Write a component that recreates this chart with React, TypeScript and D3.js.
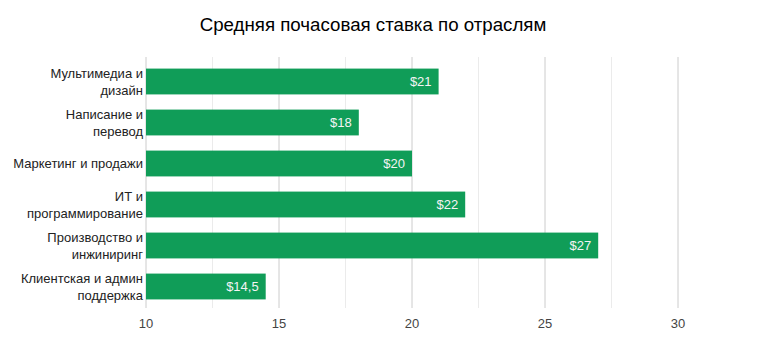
import React from "react";
import * as d3 from "d3";

const categories = [
  ["Мультимедиа и", "дизайн"],
  ["Написание и", "перевод"],
  ["Маркетинг и продажи"],
  ["ИТ и", "программирование"],
  ["Производство и", "инжиниринг"],
  ["Клиентская и админ", "поддержка"],
];
const values = [21, 18, 20, 22, 27, 14.5];
const valueLabels = ["$21", "$18", "$20", "$22", "$27", "$14,5"];
const majorTicks = [10, 15, 20, 25, 30];
const minorTicks = [12.5, 17.5, 22.5, 27.5];
const title = "Средняя почасовая ставка по отраслям";

const W = 775;
const H = 353;
const FONT = "Arial, 'Liberation Sans', sans-serif";

export default function App() {
  const x = d3.scaleLinear().domain([10, 30]).range([146, 678]);
  const y = d3
    .scaleBand<number>()
    .domain(d3.range(categories.length))
    .range([61, 307])
    .paddingInner(0.37)
    .paddingOuter(0.185);
  const gridTop = 57;
  const gridBottom = 308;
  const bw = y.bandwidth();

  return (
    <svg
      width={W}
      height={H}
      style={{ position: "absolute", left: 0, top: 0, background: "#fff" }}
      fontFamily={FONT}
    >
      <text x={373} y={31} textAnchor="middle" fontSize={18.7} fill="#000">
        {title}
      </text>
      {minorTicks.map((t) => (
        <line key={"m" + t} x1={x(t)} x2={x(t)} y1={gridTop} y2={gridBottom} stroke="#ebebeb" strokeWidth={1} />
      ))}
      {majorTicks.map((t) => (
        <line key={"M" + t} x1={x(t)} x2={x(t)} y1={gridTop} y2={gridBottom} stroke="#cccccc" strokeWidth={1} />
      ))}
      {values.map((v, i) => {
        const y0 = y(i)!;
        return (
          <g key={i}>
            <rect x={x(10)} y={y0} width={x(v) - x(10)} height={bw} fill="#109d58" />
            <text
              x={x(v) - 7}
              y={y0 + bw / 2}
              dy="0.35em"
              textAnchor="end"
              fontSize={13}
              fill="#f4f4f4"
            >
              {valueLabels[i]}
            </text>
            {categories[i].map((line, j) => (
              <text
                key={j}
                x={143}
                y={y0 + bw / 2 + (j - (categories[i].length - 1) / 2) * 17}
                dy="0.35em"
                textAnchor="end"
                fontSize={13}
                fill="#222222"
              >
                {line}
              </text>
            ))}
          </g>
        );
      })}
      {majorTicks.map((t) => (
        <text key={"t" + t} x={x(t)} y={323} dy="0.35em" textAnchor="middle" fontSize={13} fill="#444444">
          {t}
        </text>
      ))}
    </svg>
  );
}
